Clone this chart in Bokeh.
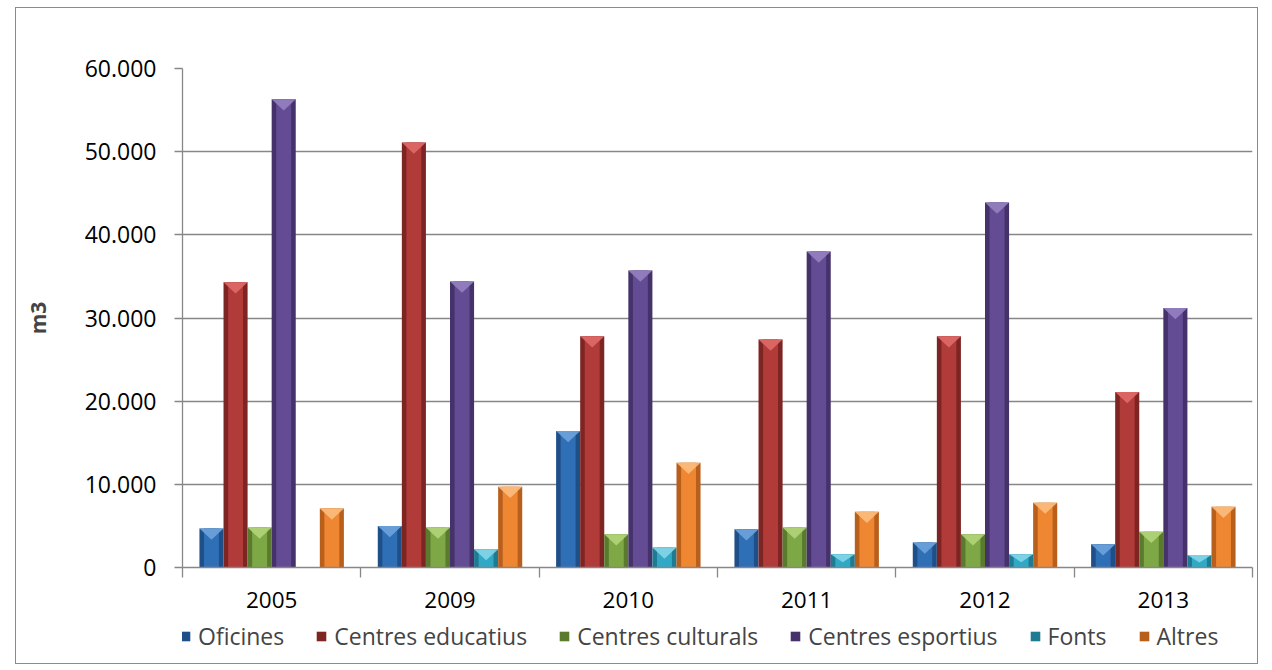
from bokeh.plotting import figure
from bokeh.models import FixedTicker, Range1d, Legend, LegendItem, ColumnDataSource
from bokeh.layouts import column
from bokeh.embed import file_html
from bokeh.resources import INLINE

years = ["2005", "2009", "2010", "2011", "2012", "2013"]
series = ["Oficines", "Centres educatius", "Centres culturals",
          "Centres esportius", "Fonts", "Altres"]
oficines = [4700, 5000, 16400, 4600, 3000, 2800]
educatius = [34300, 51100, 27800, 27400, 27800, 21100]
culturals = [4800, 4800, 4000, 4800, 4000, 4300]
esportius = [56300, 34400, 35700, 38000, 43900, 31200]
fonts = [0, 2200, 2400, 1600, 1600, 1500]
altres = [7100, 9700, 12600, 6700, 7800, 7300]
y_ticks = [0, 10000, 20000, 30000, 40000, 50000, 60000]

values = [oficines, educatius, culturals, esportius, fonts, altres]
edge_cols = ["#1f4f88", "#7d2523", "#5a7b2e", "#45326b", "#1f7b92", "#b85f1c"]
main_cols = ["#2f6fb6", "#b03b39", "#7ea846", "#644c94", "#30a9c6", "#ee8632"]
top_cols = ["#6ea3dc", "#e06a68", "#b2d47a", "#9581c0", "#86d5e8", "#fbbd7c"]

GRID = "#878787"
FONT = "Open Sans"
W = 1241

p = figure(width=W, height=612, output_backend="svg", toolbar_location=None,
           x_range=Range1d(0, len(years)), y_range=Range1d(0, 60000),
           min_border_left=166, min_border_right=5, min_border_top=60,
           min_border_bottom=53)
p.outline_line_color = None
p.background_fill_color = "white"
p.border_fill_color = "white"

n = len(series)
bw = 0.135
for j, (name, vals) in enumerate(zip(series, values)):
    xs = [i + 0.5 + (j - (n - 1) / 2) * bw for i in range(len(years))]
    src = ColumnDataSource(dict(x=xs, top=vals))
    p.vbar(x="x", top="top", width=bw, source=src,
           fill_color=edge_cols[j], line_color=None)
    p.vbar(x="x", top="top", width=bw * 0.62, source=src,
           fill_color=main_cols[j], line_color=None)
    tri_xs, tri_ys = [], []
    for x, v in zip(xs, vals):
        if v <= 0:
            continue
        h = min(1350, v * 0.6)
        tri_xs.append([x - bw / 2, x + bw / 2, x])
        tri_ys.append([v, v, v - h])
    p.patches(tri_xs, tri_ys, fill_color=top_cols[j], line_color=None,
              fill_alpha=0.9)

p.yaxis.ticker = FixedTicker(ticks=y_ticks)
p.yaxis.major_label_overrides = {t: f"{t:,}".replace(",", ".") for t in y_ticks}
p.yaxis.axis_label = "m3"
p.yaxis.axis_label_text_font = FONT
p.yaxis.axis_label_text_font_style = "bold"
p.yaxis.axis_label_text_font_size = "21px"
p.yaxis.axis_label_standoff = 30
p.yaxis.major_label_text_font = FONT
p.yaxis.major_label_text_font_size = "23px"
p.yaxis.major_label_text_color = "black"
p.yaxis.major_label_standoff = 18
p.yaxis.major_tick_out = 8
p.yaxis.major_tick_in = 0
p.yaxis.minor_tick_line_color = None
p.yaxis.axis_line_color = GRID
p.yaxis.major_tick_line_color = GRID
p.yaxis.axis_line_width = 1.3
p.yaxis.major_tick_line_width = 1.3

centres = [i + 0.5 for i in range(len(years))]
bounds = [float(i) for i in range(len(years) + 1)]
p.xaxis.ticker = FixedTicker(ticks=centres, minor_ticks=bounds)
p.xaxis.major_label_overrides = {c: y for c, y in zip(centres, years)}
p.xaxis.major_label_text_font = FONT
p.xaxis.major_label_text_font_size = "22.5px"
p.xaxis.major_label_text_color = "black"
p.xaxis.major_label_standoff = 14
p.xaxis.major_tick_out = 0
p.xaxis.major_tick_in = 0
p.xaxis.minor_tick_out = 10
p.xaxis.minor_tick_in = 0
p.xaxis.minor_tick_line_color = GRID
p.xaxis.minor_tick_line_width = 1.3
p.xaxis.axis_line_color = GRID
p.xaxis.axis_line_width = 1.3

p.xgrid.grid_line_color = None
p.ygrid.grid_line_color = GRID
p.ygrid.grid_line_width = 1.3

# legend strip (its frame is aligned with the chart's frame by the column)
q = figure(width=W, height=43, output_backend="svg", toolbar_location=None,
           x_axis_location=None, y_axis_location=None,
           x_range=Range1d(0, 1), y_range=Range1d(0, 1), min_border=0)
q.outline_line_color = None
q.xgrid.grid_line_color = None
q.ygrid.grid_line_color = None
items = []
for j, name in enumerate(series):
    # zero-height proxy glyph, only used for the legend swatch
    r = q.vbar(x=[0.5], top=[0], bottom=0, width=0.01,
               fill_color=edge_cols[j], line_color=None)
    items.append(LegendItem(label=name, renderers=[r]))
legend = Legend(items=items, orientation="horizontal", location=(-3, 11),
                label_text_font=FONT, label_text_font_size="23px",
                glyph_width=12, glyph_height=12, label_standoff=7,
                spacing=31, padding=2, margin=0,
                border_line_color=None, background_fill_alpha=0)
q.add_layout(legend)

page = column(p, q, spacing=0)
page.styles = {"margin": "8px 0 0 16px", "outline": "1px solid #8a8a8a"}
open("out.html", "w").write(file_html(page, INLINE))
